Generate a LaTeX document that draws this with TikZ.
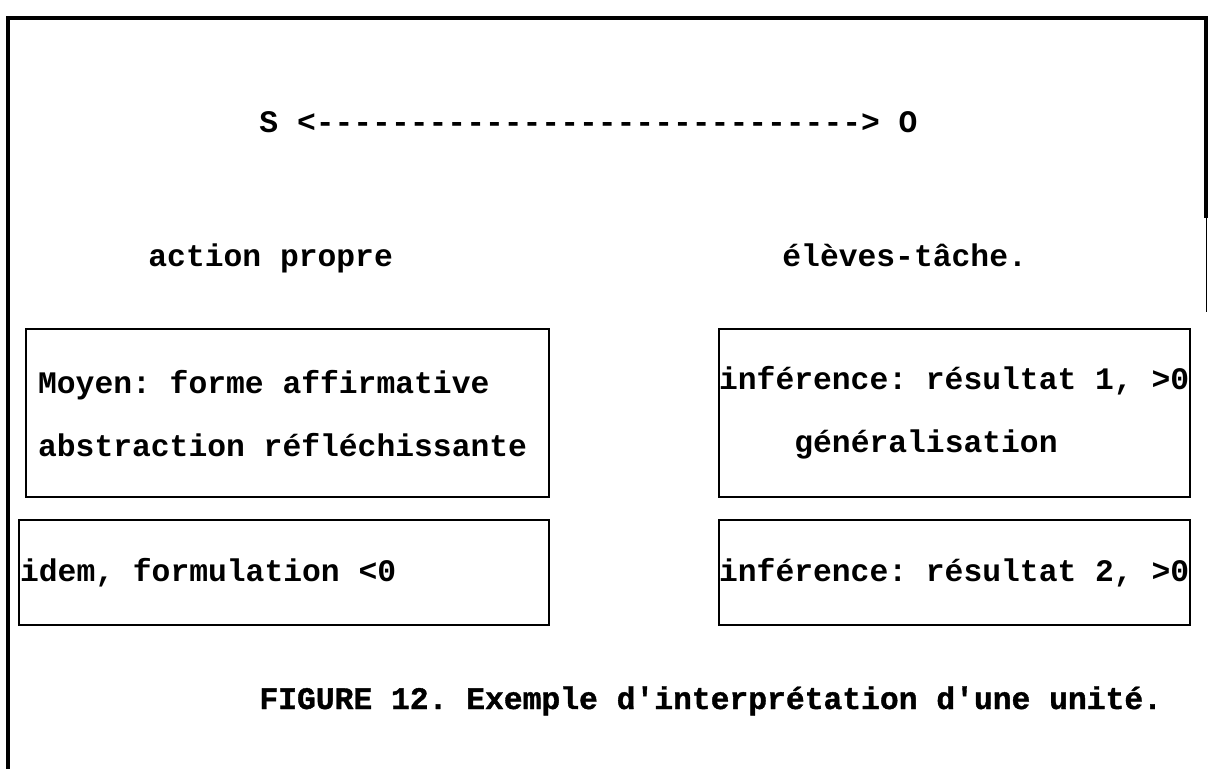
\documentclass[tikz,border=0pt]{standalone}
\usepackage{fontspec}
\setmonofont{Liberation Mono}
\newfontfamily\captionfont{Liberation Mono Bold}[FakeBold=1.2]
\usetikzlibrary{positioning}

\begin{document}
\begin{tikzpicture}[
        x=0.5pt, y=-0.5pt,
        node distance=10.5pt and 2cm,
        every node/.style={font={\ttfamily\bfseries\fontsize{15.67}{31.5}\selectfont\frenchspacing}},
        box/.style={rectangle, draw, line width=1.1pt, anchor=north west, align=flush left, inner ysep=0pt, minimum height=84pt,
            execute at begin node={\spaceskip=9.4pt\xspaceskip=9.4pt\relax}},
        head/.style={anchor=base west, inner sep=0pt}
    ]

    \useasboundingbox (0,0) rectangle (1208,769);
    \draw[line width=1.6pt] (8,769) -- (8,18) -- (1206,18) -- (1206,218);
    \draw[line width=0.4pt] (1206,218) -- (1206,312);

    \node[head] (axis) at (259,133) {S <-----------------------------> O};
    \node[head] (propre) at (148,267) {action propre};
    \node[head] (tache) at (782,267) {élèves-tâche.};

    \node[box, text width=249.5pt, inner xsep=6pt] (moyen) at (25,328) {Moyen: forme affirmative\\
        abstraction réfléchissante};
    \node[box, text width=264pt, inner xsep=0.5pt, minimum height=52.5pt, below=10.5pt of moyen.south west, anchor=north west, xshift=-3.5pt] (idem) {idem, formulation <0};

    \node[box, text width=235.5pt, inner xsep=0pt] (infer1) at (718,328) {inférence: résultat 1, >0\\
        \phantom{xxxx}généralisation};
    \node[box, text width=235.5pt, inner xsep=0pt, minimum height=52.5pt, below=10.5pt of infer1.south west, anchor=north west] (infer2) {inférence: résultat 2, >0};

    \node[head, font={\captionfont\fontsize{15.67}{20}\selectfont\frenchspacing}] (caption) at (259,709) {FIGURE 12. Exemple d\textquotesingle interprétation d\textquotesingle une unité.};

    \end{tikzpicture}
\end{document}
